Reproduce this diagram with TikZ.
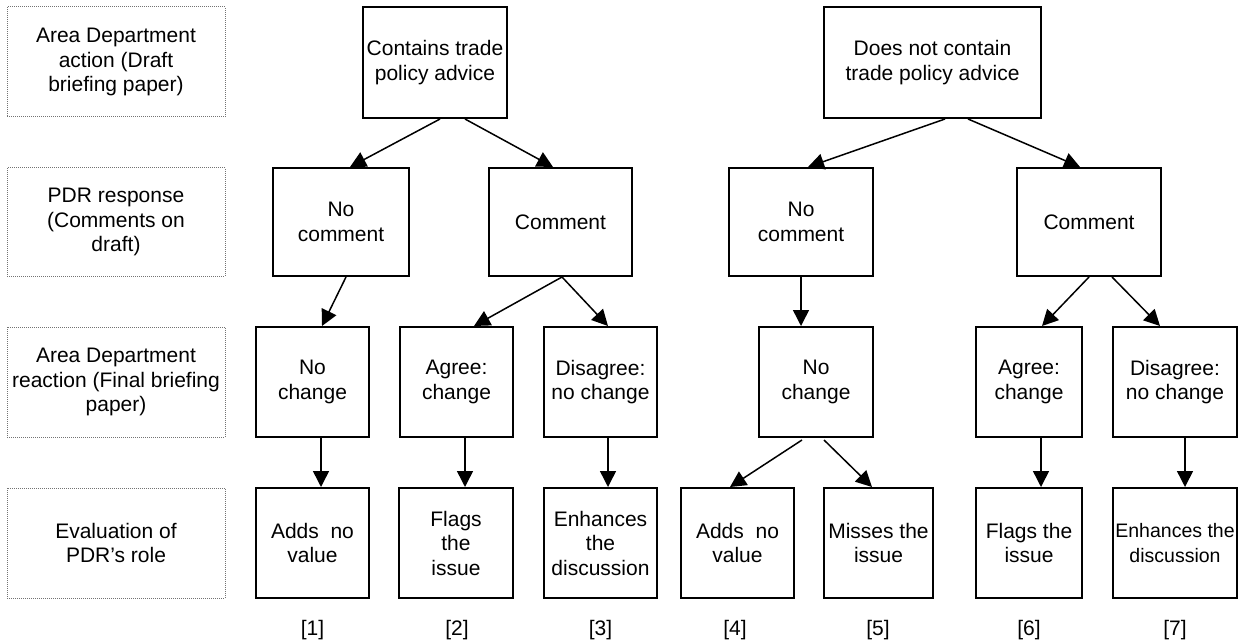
\documentclass[tikz,border=0pt]{standalone}
\usepackage{fontspec}
\setmainfont{Liberation Sans}
\usetikzlibrary{arrows.meta}
\begin{document}
\begin{tikzpicture}[x=1pt,y=-1pt,
  txt/.style={font=\fontsize{21}{24.5}\selectfont, align=center, inner sep=0pt},
  box/.style={txt, draw=black, line width=2pt},
  lab/.style={txt, draw=black!55, line width=1pt, dash pattern=on 1pt off 1pt, minimum width=218pt},
  arr/.style={line width=1.5pt, -{Triangle[length=16pt,width=16pt]}}
]
\useasboundingbox (0,0) rectangle (1238,644);
% row labels
\node[lab, minimum height=110pt] (l1) at (116,62) {Area Department\\action (Draft\\briefing paper)};
\node[lab, minimum height=108pt] (l2) at (116,222) {PDR response\\(Comments on\\draft)};
\node[lab, minimum height=110pt] (l3) at (116,382) {Area Department\\reaction (Final briefing\\paper)};
\node[lab, minimum height=110pt] (l4) at (116,543) {Evaluation of\\PDR’s role};
% left tree
\node[box, minimum width=144pt, minimum height=111pt] (tL) at (435,62.5) {Contains trade\\policy advice};
\node[box, minimum width=136pt, minimum height=108pt] (ncL) at (341,222) {No\\comment};
\node[box, minimum width=143pt, minimum height=108pt] (cL) at (560.5,222) {Comment};
\node[box, minimum width=113pt, minimum height=110pt] (nchL) at (312.5,382) {No\\change};
\node[box, minimum width=113pt, minimum height=110pt] (agL) at (456.5,382) {Agree:\\change};
\node[box, minimum width=113pt, minimum height=110pt] (dgL) at (600.5,382) {Disagree:\\no change};
\node[box, minimum width=113pt, minimum height=110pt] (e1) at (312.5,543) {Adds\ \ no\\value};
\node[box, minimum width=114pt, minimum height=110pt] (e2) at (456,543) {Flags\\the\\issue};
\node[box, minimum width=113pt, minimum height=110pt] (e3) at (600.5,543) {Enhances\\the\\discussion};
% right tree
\node[box, minimum width=217pt, minimum height=111pt] (tR) at (932.5,62.5) {Does not contain\\trade policy advice};
\node[box, minimum width=144pt, minimum height=108pt] (ncR) at (801,222) {No\\comment};
\node[box, minimum width=144pt, minimum height=108pt] (cR) at (1089,222) {Comment};
\node[box, minimum width=114pt, minimum height=110pt] (nchR) at (816,382) {No\\change};
\node[box, minimum width=106pt, minimum height=110pt] (agR) at (1029,382) {Agree:\\change};
\node[box, minimum width=124pt, minimum height=110pt] (dgR) at (1175,382) {Disagree:\\no change};
\node[box, minimum width=113pt, minimum height=110pt] (e4) at (737.5,543) {Adds\ \ no\\value};
\node[box, minimum width=109pt, minimum height=110pt] (e5) at (878.5,543) {Misses the\\issue};
\node[box, minimum width=106pt, minimum height=110pt] (e6) at (1029,543) {Flags the\\issue};
\node[box, minimum width=124pt, minimum height=110pt] (e7) at (1175,543) {\fontsize{19.5}{24.5}\selectfont Enhances the\\\fontsize{19.5}{24.5}\selectfont discussion};
% case numbers
\node[txt] (n1) at (312.5,630) {[1]};
\node[txt] (n2) at (457,630) {[2]};
\node[txt] (n3) at (600.5,630) {[3]};
\node[txt] (n4) at (735,630) {[4]};
\node[txt] (n5) at (878,630) {[5]};
\node[txt] (n6) at (1029,630) {[6]};
\node[txt] (n7) at (1175,630) {[7]};
% left arrows
\draw[arr] ([xshift=5pt]tL.south) -- ([xshift=9pt]ncL.north);
\draw[arr] ([xshift=30pt]tL.south) -- ([xshift=-7.5pt]cL.north);
\draw[arr] ([xshift=5pt]ncL.south) -- ([xshift=9.5pt]nchL.north);
\draw[arr] ([xshift=1.5pt]cL.south) -- ([xshift=17.5pt]agL.north);
\draw[arr] ([xshift=1.5pt]cL.south) -- ([xshift=7.5pt]dgL.north);
\draw[arr] ([xshift=8.5pt]nchL.south) -- ([xshift=8.5pt]e1.north);
\draw[arr] ([xshift=8.5pt]agL.south) -- ([xshift=9pt]e2.north);
\draw[arr] ([xshift=7.5pt]dgL.south) -- ([xshift=7.5pt]e3.north);
% right arrows
\draw[arr] ([xshift=12.5pt]tR.south) -- ([xshift=7pt]ncR.north);
\draw[arr] ([xshift=35.5pt]tR.south) -- ([xshift=-9pt]cR.north);
\draw[arr] (ncR.south) -- ([xshift=-15pt]nchR.north);
\draw[arr] ([xshift=-14pt,yshift=-2pt]nchR.south) -- ([xshift=-7.5pt]e4.north);
\draw[arr] ([xshift=8pt,yshift=-2pt]nchR.south) -- ([xshift=-6.5pt]e5.north);
\draw[arr] (cR.south) -- ([xshift=13pt]agR.north);
\draw[arr] ([xshift=23pt]cR.south) -- ([xshift=-15pt]dgR.north);
\draw[arr] ([xshift=12pt]agR.south) -- ([xshift=12pt]e6.north);
\draw[arr] ([xshift=10pt]dgR.south) -- ([xshift=10pt]e7.north);
\end{tikzpicture}
\end{document}
